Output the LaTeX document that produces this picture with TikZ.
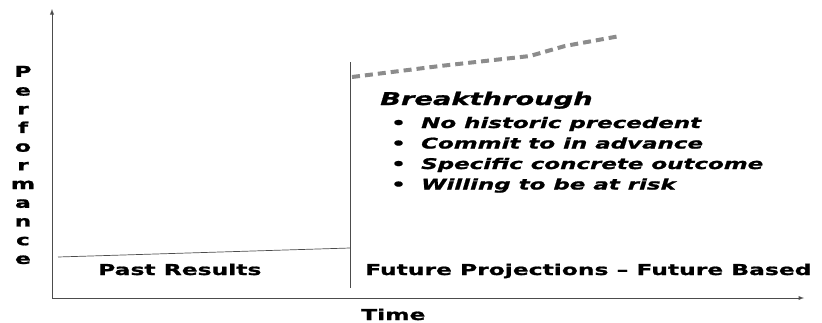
\documentclass[tikz,border=0pt]{standalone}
\usepackage{fontspec}
\setmainfont{DejaVu Sans}[FakeStretch=1.56, FakeBold=1.2]
\usetikzlibrary{arrows, positioning}

\tikzset{
  axis/.style={draw=black!70, line width=0.9pt, -latex},
  thin line/.style={draw=black!70, line width=0.7pt},
  projection/.style={draw=black!45, line width=4pt, dash pattern=on 8pt off 5pt},
  label/.style={font=\fontsize{15}{18}\selectfont\bfseries, inner sep=0pt, anchor=base west},
  item/.style={font=\fontsize{14.7}{18}\selectfont\bfseries\itshape, inner sep=0pt, anchor=base west}
}

\begin{document}
\begin{tikzpicture}[x=1pt, y=-1pt]
\useasboundingbox (0,0) rectangle (822,322);

% Axes
\coordinate (origin) at (52,298);
\coordinate (ytip) at (52,9);
\coordinate (xtip) at (804,298);
\draw[axis] (origin) -- (ytip);
\draw[axis] (origin) -- (xtip);

% Now line between past and future
\coordinate (nowtop) at (350,62);
\coordinate (nowbot) at (350,288);
\draw[thin line] (nowtop) -- (nowbot);

% Past trend
\coordinate (pastA) at (58,257);
\coordinate (pastB) at (350,248);
\draw[thin line] (pastA) -- (pastB);

% Breakthrough projection
\coordinate (projA) at (352,77);
\coordinate (projB) at (440,66);
\coordinate (projC) at (530,56);
\coordinate (projD) at (565,46);
\coordinate (projE) at (620,36);
\draw[projection] (projA) -- (projB) -- (projC) -- (projD) -- (projE);

% Labels
\node[label, font=\fontsize{17.5}{18}\selectfont\bfseries\itshape] (breakthrough) at (380,105) {Breakthrough};
\node[item] (bulA) at (391,128) {•};
\node[item] (bulB) at (391,148.5) {•};
\node[item] (bulC) at (391,169) {•};
\node[item] (bulD) at (391,189.5) {•};
\node[item] (itemA) at (421,128) {No historic precedent};
\node[item] (itemB) at (421,148.5) {Commit to in advance};
\node[item] (itemC) at (421,169) {Specific concrete outcome};
\node[item] (itemD) at (421,189.5) {Willing to be at risk};

\node[label] (past) at (98,275) {Past Results};
\node[label] (future) at (365,275) {Future Projections – Future Based};
\node[label] (time) at (361,320) {Time};
\node[font=\fontsize{15}{18.7}\selectfont\bfseries, align=center, inner sep=0pt] (perf) at (23,165)
  {P\\e\\r\\f\\o\\r\\m\\a\\n\\c\\e};
\end{tikzpicture}
\end{document}
